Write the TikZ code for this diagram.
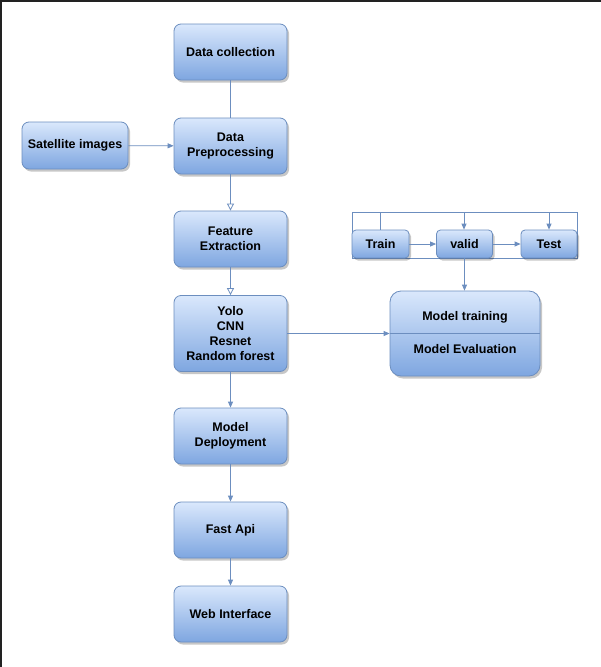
\documentclass[tikz,border=0pt]{standalone}
\usepackage{fontspec}
\setmainfont{Liberation Sans}
\usetikzlibrary{arrows.meta,shadows}
\definecolor{bstroke}{HTML}{6C8EBF}
\definecolor{btop}{HTML}{DAE8FC}
\definecolor{bbot}{HTML}{7EA6E0}
\definecolor{edgec}{HTML}{6C8EBF}
\begin{document}
\begin{tikzpicture}[x=1pt,y=-1pt,
  lbl/.style={font=\bfseries\fontsize{12.5}{15.3}\selectfont},
  box/.style={draw=bstroke, line width=0.8pt, rounded corners=7pt, top color=btop, bottom color=bbot,
    drop shadow={shadow xshift=2pt, shadow yshift=-2.5pt, opacity=0.22, fill=black},
    lbl, align=center, inner sep=2pt},
  mainbox/.style={box, minimum width=113pt, minimum height=56pt},
  smallbox/.style={box, rounded corners=4pt, minimum height=28pt},
  conn/.style={draw=edgec, line width=0.8pt},
  arr/.style={conn, -{Triangle[length=6pt,width=5pt]}},
  oarr/.style={conn, -{Triangle[open,length=7pt,width=7pt,fill=white]}}
]
\useasboundingbox (0,0) rectangle (601,667);
\fill[white] (0,0) rectangle (601,667);
\draw[line width=2pt, draw={rgb,255:red,34;green,34;blue,34}] (0,1) -- (601,1);
\draw[line width=2pt, draw={rgb,255:red,34;green,34;blue,34}] (1,0) -- (1,667);

% frame around train/valid/test
\draw[conn] (352,212) rectangle (577,258);

\node[mainbox] (dc) at (230.5,52) {Data collection};
\node[box, minimum width=106pt, minimum height=47pt] (sat) at (75,145.5) {Satellite images};
\node[mainbox] (pre) at (230.5,146) {Data\\Preprocessing};
\node[mainbox] (fe) at (230.5,239) {Feature\\Extraction};
\node[mainbox, minimum height=76pt] (yolo) at (230.5,333.5) {Yolo\\CNN\\Resnet\\Random forest};
\node[mainbox] (dep) at (230.5,436) {Model\\Deployment};
\node[mainbox] (api) at (230.5,530) {Fast Api};
\node[mainbox] (web) at (230.5,614) {Web Interface};

\node[smallbox, minimum width=57pt] (train) at (380.5,244) {Train};
\node[smallbox, minimum width=56pt] (valid) at (464.5,244) {valid};
\node[smallbox, minimum width=56pt] (test) at (549,244) {Test};

\node[box, rounded corners=11pt, minimum width=150pt, minimum height=85pt] (mt) at (465,333.5) {};
\draw[conn] (mt.west) -- (mt.east);
\node[lbl] (mtl) at (465,317) {Model training};
\node[lbl] (mel) at (465,349) {Model Evaluation};

\coordinate (ftr) at (380,212);
\coordinate (fva) at (464,212);
\coordinate (fte) at (549,212);

\draw[conn] (dc) -- (pre);
\draw[arr] (sat) -- (pre);
\draw[oarr] (pre) -- (fe);
\draw[oarr] (fe) -- (yolo);
\draw[arr] (yolo) -- (dep);
\draw[arr] (dep) -- (api);
\draw[arr] (api) -- (web);
\draw[arr] (yolo.east) -- (yolo.east -| mt.west);
\draw[arr] (train) -- (valid);
\draw[arr] (valid) -- (test);
\draw[arr] (valid.south) -- (mt.north -| valid.south);
\draw[conn] (ftr) -- (train.north -| ftr);
\draw[arr] (fva) -- (valid.north -| fva);
\draw[arr] (fte) -- (test.north -| fte);
\end{tikzpicture}
\end{document}
